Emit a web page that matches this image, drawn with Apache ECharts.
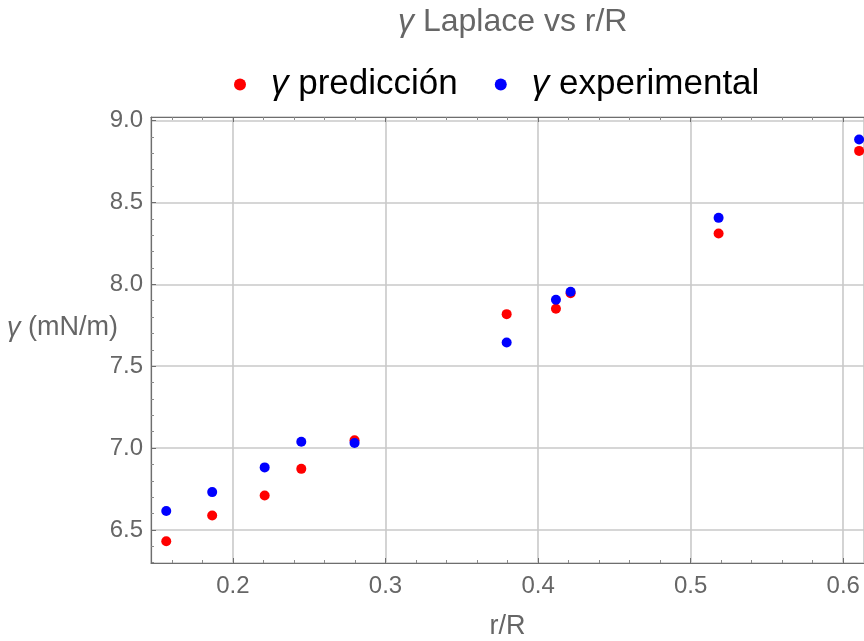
<!DOCTYPE html>
<html>
<head>
<meta charset="utf-8">
<script src="https://cdn.jsdelivr.net/npm/echarts@6/dist/echarts.min.js"></script>
<style>html,body{margin:0;padding:0;background:#fff}#c{width:864px;height:641px}</style>
</head>
<body>
<div id="c"></div>
<script>
// Data
const rR = [0.1563, 0.1864, 0.2208, 0.2448, 0.2797, 0.3794, 0.4117, 0.4213, 0.5183, 0.6104];
const gammaPrediccion = [6.431, 6.588, 6.710, 6.873, 7.047, 7.818, 7.851, 7.945, 8.310, 8.815];
const gammaExperimental = [6.616, 6.731, 6.882, 7.039, 7.031, 7.645, 7.906, 7.955, 8.406, 8.885];
const seriesNames = ['predicción', 'experimental'];
const xTicks = [0.2, 0.3, 0.4, 0.5, 0.6];
const yTicks = [6.5, 7.0, 7.5, 8.0, 8.5, 9.0];

const FONT = '"Liberation Sans", Arial, sans-serif';
const chart = echarts.init(document.getElementById('c'), null, {renderer: 'canvas'});

function pairs(xs, ys) { return xs.map((x, i) => [x, ys[i]]); }

const axisCommon = {
  type: 'value',
  axisLine: {show: true, lineStyle: {color: '#6e6e6e', width: 1.2}},
  axisTick: {show: true, inside: true, length: 5, lineStyle: {color: '#6e6e6e'}},
  minorTick: {show: true, splitNumber: 5, length: 3, lineStyle: {color: '#8a8a8a'}},
  splitLine: {show: true, lineStyle: {color: '#c9c9c9', width: 1.6}},
  axisLabel: {color: '#666', fontSize: 24, fontFamily: FONT, showMinLabel: false, showMaxLabel: false}
};

chart.setOption({
  backgroundColor: '#fff',
  animation: false,
  title: {
    text: '{i|γ} Laplace vs r/R',
    left: 393, top: 1,
    textStyle: {
      color: '#666', fontSize: 32, fontWeight: 'normal', fontFamily: FONT,
      rich: {i: {fontStyle: 'italic', color: '#666', fontSize: 32, fontFamily: FONT}}
    }
  },
  legend: {
    data: seriesNames,
    left: 229, top: 62,
    icon: 'circle', itemWidth: 12, itemHeight: 12, itemGap: 37,
    formatter: name => '{i|γ} ' + name,
    textStyle: {
      color: '#000', fontSize: 35, fontFamily: FONT,
      rich: {i: {fontStyle: 'italic', color: '#000', fontSize: 35, fontFamily: FONT, padding: [0, 0, 0, 20]}}
    }
  },
  grid: {left: 151, right: 0, top: 117, bottom: 78, containLabel: false, outerBoundsMode: 'none'},
  xAxis: [
    Object.assign({}, axisCommon, {
      position: 'bottom',
      min: 0.1463, max: 0.6136, minInterval: 0.1, maxInterval: 0.1,
      name: 'r/R', nameLocation: 'middle', nameGap: 50, nameMoveOverlap: false,
      nameTextStyle: {color: '#666', fontSize: 27, fontFamily: FONT},
      axisLabel: Object.assign({}, axisCommon.axisLabel, {margin: 11,
        formatter: v => xTicks.some(t => Math.abs(t - v) < 1e-9) ? v.toFixed(1) : ''})
    }),
    Object.assign({}, axisCommon, {
      position: 'top',
      min: 0.1463, max: 0.6136, minInterval: 0.1, maxInterval: 0.1,
      splitLine: {show: false},
      axisLabel: {show: false}
    })
  ],
  yAxis: Object.assign({}, axisCommon, {
    min: 6.298, max: 9.022, minInterval: 0.5, maxInterval: 0.5,
    name: '{i|γ} (mN/m)', nameLocation: 'middle', nameRotate: 0, nameGap: 33, nameMoveOverlap: false,
    nameTextStyle: {color: '#666', fontSize: 27, fontFamily: FONT, padding: [0, 0, 24, 0],
      rich: {i: {fontStyle: 'italic', color: '#666', fontSize: 27, fontFamily: FONT}}},
    axisLabel: Object.assign({}, axisCommon.axisLabel, {margin: 8, showMaxLabel: true,
      formatter: v => yTicks.some(t => Math.abs(t - v) < 1e-9) ? v.toFixed(1) : ''})
  }),
  series: [
    {name: seriesNames[0], type: 'scatter', symbol: 'circle', symbolSize: 10,
     itemStyle: {color: '#ff0000', opacity: 1}, data: pairs(rR, gammaPrediccion), clip: false, z: 2},
    {name: seriesNames[1], type: 'scatter', symbol: 'circle', symbolSize: 10,
     itemStyle: {color: '#0000ff', opacity: 1}, data: pairs(rR, gammaExperimental), clip: false, z: 3}
  ]
});
</script>
</body>
</html>
